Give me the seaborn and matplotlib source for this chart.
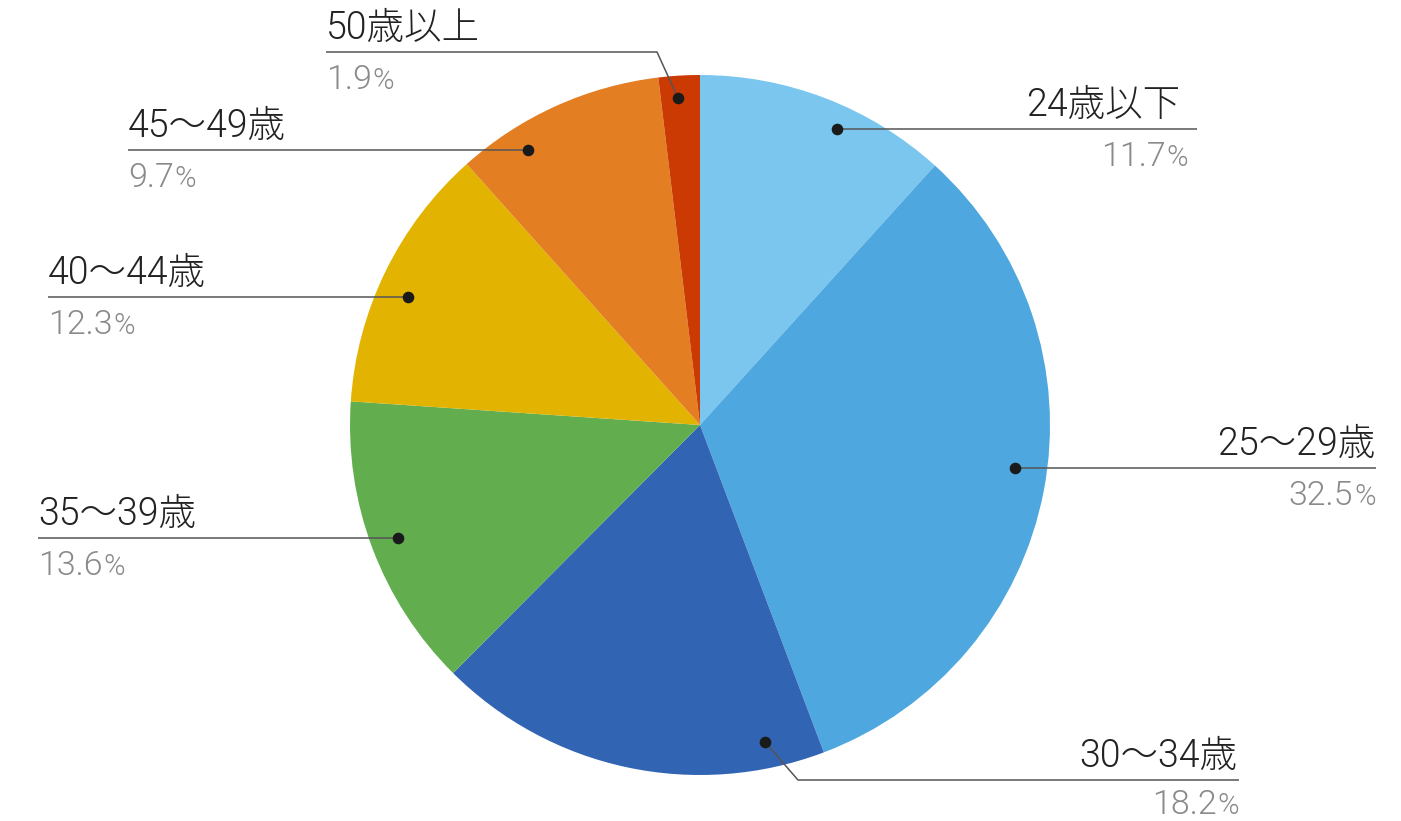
import matplotlib
matplotlib.use("Agg")
import matplotlib.pyplot as plt
import seaborn as sns

# ---- data ----
categories = ["24歳以下", "25〜29歳", "30〜34歳", "35〜39歳", "40〜44歳", "45〜49歳", "50歳以上"]
values = [11.7, 32.5, 18.2, 13.6, 12.3, 9.7, 1.9]
pct_labels = ["11.7", "32.5", "18.2", "13.6", "12.3", "9.7", "1.9"]
colors = ["#7AC6EE", "#4FA7DF", "#3264B4", "#62AE4F", "#E2B300", "#E37F22", "#CB3A02"]

# ---- layout (pixel coordinates, y from top) ----
W, H = 1401, 821
center = (700, 425)
radius = 350
# dot position, elbow point (or None), line start x, line end x, line y, text side,
# right-side text inset, percent baseline offset below line
anchors = [
    ((837, 129), None, 837, 1197, 129, "right", 17, 37),
    ((1015, 468), None, 1015, 1376, 468, "right", 1, 37),
    ((765, 742), (798, 780), 798, 1239, 780, "right", 2, 34),
    ((398, 538), None, 38, 398, 538, "left", 0, 37),
    ((408, 297), None, 48, 408, 297, "left", 0, 37),
    ((528, 150), None, 128, 528, 150, "left", 0, 37),
    ((678, 98), (657, 52), 326, 657, 52, "left", 0, 37),
]

sns.set_theme(style="white")
FAM = ["Roboto", "Noto Sans CJK JP", "DejaVu Sans"]
plt.rcParams["font.family"] = FAM

fig = plt.figure(figsize=(W / 100, H / 100), dpi=100)
ax = fig.add_axes([0, 0, 1, 1])

def Y(y):
    return H - y

ax.pie(values, colors=colors, startangle=90, counterclock=False,
       center=(center[0], Y(center[1])), radius=radius, frame=True,
       wedgeprops=dict(linewidth=0))
ax.set_xlim(0, W)
ax.set_ylim(0, H)
ax.set_aspect("equal")
ax.axis("off")

fig.canvas.draw()
renderer = fig.canvas.get_renderer()

line_col = "#555555"
label_col = "#222222"
pct_col = "#8a8a8a"
LBL = dict(fontsize=27, fontweight=300, color=label_col, family=FAM)
NUM = dict(fontsize=24.5, fontweight=300, color=pct_col, family=FAM)
PCT = dict(fontsize=21, fontweight=300, color=pct_col, family=FAM)

for cat, pct, (dot, elbow, x0, x1, ly, side, inset, poff) in zip(categories, pct_labels, anchors):
    if elbow is None:
        xs = [x0, x1]
        ys = [Y(ly), Y(ly)]
    else:
        end = x1 if side == "right" else x0
        xs = [dot[0], elbow[0], end]
        ys = [Y(dot[1]), Y(elbow[1]), Y(ly)]
    ax.plot(xs, ys, color=line_col, lw=1.1, solid_capstyle="butt", zorder=3)
    ax.scatter([dot[0]], [Y(dot[1])], s=70, color="#1a1a1a", zorder=4, linewidths=0)

    pby = ly + poff
    if side == "right":
        ax.text(x1 - inset, Y(ly - 13), cat, ha="right", va="baseline", **LBL)
        xr = x1 - max(inset - 8, 0)
        t_pct = ax.text(xr, Y(pby), "%", ha="right", va="baseline", **PCT)
        w = t_pct.get_window_extent(renderer).width
        ax.text(xr - w - 1, Y(pby), pct, ha="right", va="baseline", **NUM)
    else:
        ax.text(x0, Y(ly - 13), cat, ha="left", va="baseline", **LBL)
        t_num = ax.text(x0, Y(pby), pct, ha="left", va="baseline", **NUM)
        w = t_num.get_window_extent(renderer).width
        ax.text(x0 + w + 1, Y(pby), "%", ha="left", va="baseline", **PCT)

fig.savefig("out.png", dpi=100)
